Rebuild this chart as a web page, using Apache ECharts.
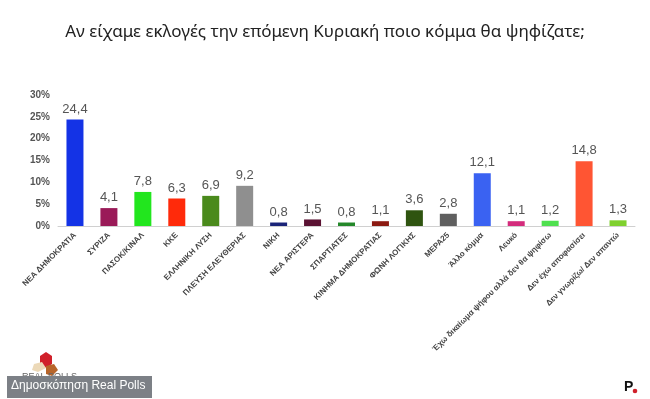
<!DOCTYPE html>
<html>
<head>
<meta charset="utf-8">
<script src="https://cdn.jsdelivr.net/npm/echarts@6/dist/echarts.min.js"></script>
<style>
  html, body { margin: 0; padding: 0; background: #fff; }
  #main { width: 650px; height: 399px; }
</style>
</head>
<body>
<div id="main"></div>
<script>
const categories = [
  "ΝΕΑ ΔΗΜΟΚΡΑΤΙΑ", "ΣΥΡΙΖΑ", "ΠΑΣΟΚ/ΚΙΝΑΛ", "ΚΚΕ", "ΕΛΛΗΝΙΚΗ ΛΥΣΗ",
  "ΠΛΕΥΣΗ ΕΛΕΥΘΕΡΙΑΣ", "ΝΙΚΗ", "ΝΕΑ ΑΡΙΣΤΕΡΑ", "ΣΠΑΡΤΙΑΤΕΣ",
  "ΚΙΝΗΜΑ ΔΗΜΟΚΡΑΤΙΑΣ", "ΦΩΝΗ ΛΟΓΙΚΗΣ", "ΜΕΡΑ25", "Άλλο κόμμα", "Λευκό",
  "Έχω δικαίωμα ψήφου αλλά δεν θα ψηφίσω", "Δεν έχω αποφασίσει",
  "Δεν γνωρίζω/ Δεν απαντώ"
];
const values = [24.4, 4.1, 7.8, 6.3, 6.9, 9.2, 0.8, 1.5, 0.8, 1.1, 3.6, 2.8, 12.1, 1.1, 1.2, 14.8, 1.3];
const barColors = [
  "#1433e6", "#9a1a58", "#22e61e", "#ff2a0a", "#4a8a1c", "#8f8f8f", "#1a2478",
  "#5a1232", "#24882a", "#8c1a12", "#2f5410", "#5f5f5f", "#3a62f2", "#d42c7c",
  "#4fe04f", "#ff5533", "#7fd02e"
];

const chart = echarts.init(document.getElementById("main"));
chart.setOption({
  animation: false,
  title: {
    text: "Αν είχαμε εκλογές την επόμενη Κυριακή ποιο κόμμα θα ψηφίζατε;",
    left: "center",
    top: 19,
    textStyle: {
      fontFamily: "Noto Sans",
      fontSize: 17,
      fontWeight: "normal",
      color: "#222"
    }
  },
  grid: {
    left: 58,
    right: 15,
    top: 95,
    bottom: 173,
    containLabel: false
  },
  xAxis: {
    type: "category",
    data: categories,
    axisTick: { show: false },
    axisLine: { lineStyle: { color: "#d0d0d0", width: 1 } },
    axisLabel: {
      interval: 0,
      rotate: 45,
      margin: 8,
      fontSize: 8,
      fontWeight: "bold",
      fontFamily: "Liberation Sans",
      color: "#444"
    }
  },
  yAxis: {
    type: "value",
    min: 0,
    max: 30,
    interval: 5,
    axisLine: { show: false },
    axisTick: { show: false },
    splitLine: { show: false },
    axisLabel: {
      formatter: "{value}%",
      margin: 8,
      fontSize: 10,
      fontWeight: "bold",
      fontFamily: "Liberation Sans",
      color: "#555"
    }
  },
  series: [{
    type: "bar",
    barWidth: 17,
    data: values.map((v, i) => ({
      value: v,
      itemStyle: { color: barColors[i] }
    })),
    label: {
      show: true,
      position: "top",
      distance: 4,
      fontSize: 13,
      fontFamily: "Liberation Sans",
      color: "#555",
      formatter: p => String(p.value).replace(".", ",")
    }
  }],
  graphic: [
    // logo
    { type: "polygon", shape: { points: [[40, 356], [46, 352], [52, 356], [52, 364], [46, 368], [40, 364]] }, style: { fill: "#d0202a" } },
    { type: "polygon", shape: { points: [[34, 364], [42, 362], [46, 368], [38, 372], [32, 370]] }, style: { fill: "#ecd9b8" } },
    { type: "polygon", shape: { points: [[46, 366], [54, 364], [58, 370], [52, 376], [46, 374]] }, style: { fill: "#b8652a" } },
    { type: "text", left: 22, top: 372, style: { text: "REAL POLLS", fontSize: 9, fill: "#666", fontFamily: "Liberation Sans" } },
    // footer
    { type: "rect", shape: { x: 7, y: 376, width: 145, height: 22 }, style: { fill: "#7c8086" } },
    { type: "text", left: 11, top: 380, style: { text: "Δημοσκόπηση Real Polls", fontSize: 12, fill: "#fff", fontFamily: "Liberation Sans" } },
    { type: "text", left: 624, top: 380, style: { text: "P", fontSize: 14, fontWeight: "bold", fill: "#111", fontFamily: "Liberation Sans" } },
    { type: "circle", shape: { cx: 635, cy: 391, r: 2.3 }, style: { fill: "#d0202a" } }
  ]
});
</script>
</body>
</html>
